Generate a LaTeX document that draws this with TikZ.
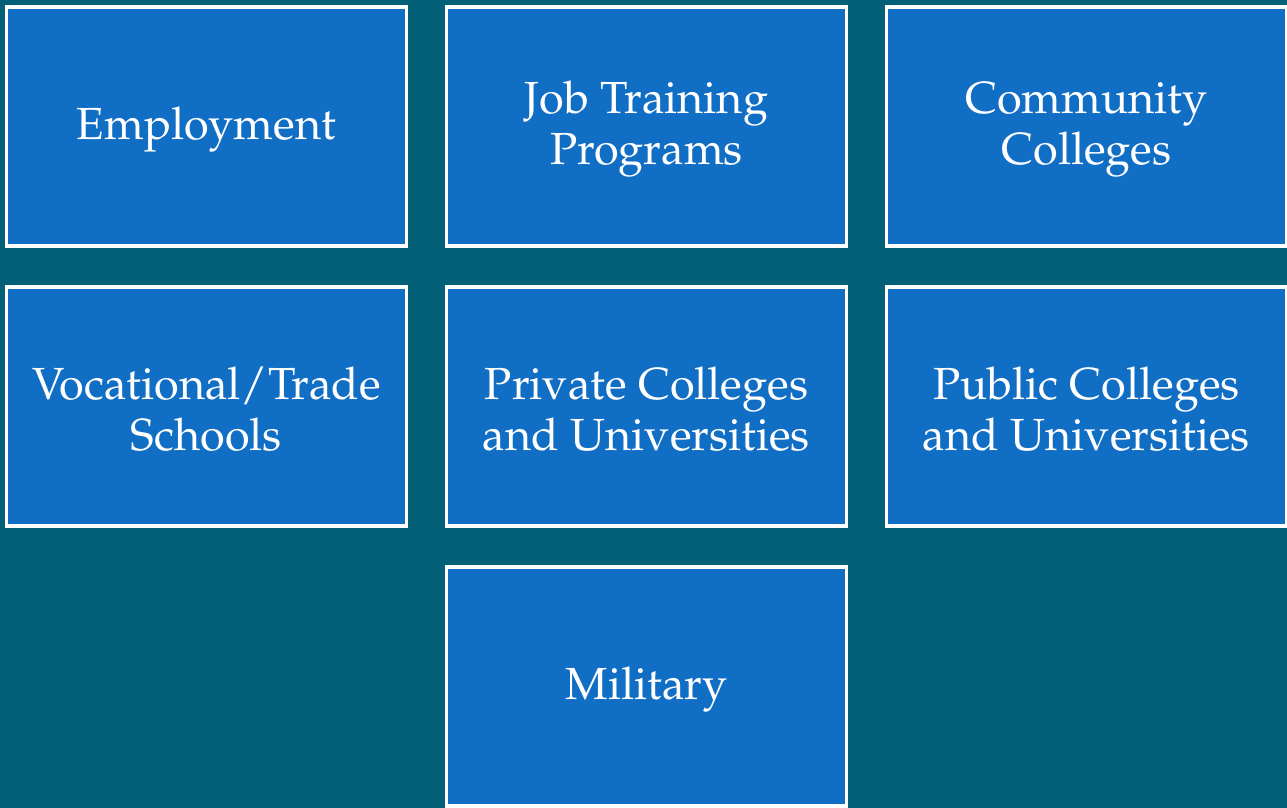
\documentclass[tikz,border=0pt]{standalone}
\usepackage[T1]{fontenc}
\usepackage{mathpazo}
\definecolor{bgteal}{RGB}{3,96,120}
\definecolor{boxblue}{RGB}{17,110,197}
\tikzset{
  cell/.style={draw=white, line width=3.5pt, fill=boxblue, minimum width=400pt, minimum height=239pt,
    inner sep=0pt},
  celltext/.style={label={[align=center, text=white, inner sep=0pt, font=\fontsize{45}{51}\selectfont, yshift=-3pt]center:#1}}
}
\begin{document}
\begin{tikzpicture}[x=1pt,y=-1pt]
\fill[bgteal] (0,0) rectangle (1287,808);
\useasboundingbox (0,0) rectangle (1287,808);
\node[cell, celltext={Employment}] (emp) at (206.5,126.5) {};
\node[cell, celltext={Job Training\\Programs}] (job) at (646.5,126.5) {};
\node[cell, celltext={Community\\Colleges}] (cc) at (1086.5,126.5) {};
\node[cell, celltext={Vocational/Trade\\Schools}] (voc) at (206.5,406.5) {};
\node[cell, celltext={Private Colleges\\and Universities}] (priv) at (646.5,406.5) {};
\node[cell, celltext={Public Colleges\\and Universities}] (pub) at (1086.5,406.5) {};
\node[cell, celltext={Military}] (mil) at (646.5,686.5) {};
\end{tikzpicture}
\end{document}
